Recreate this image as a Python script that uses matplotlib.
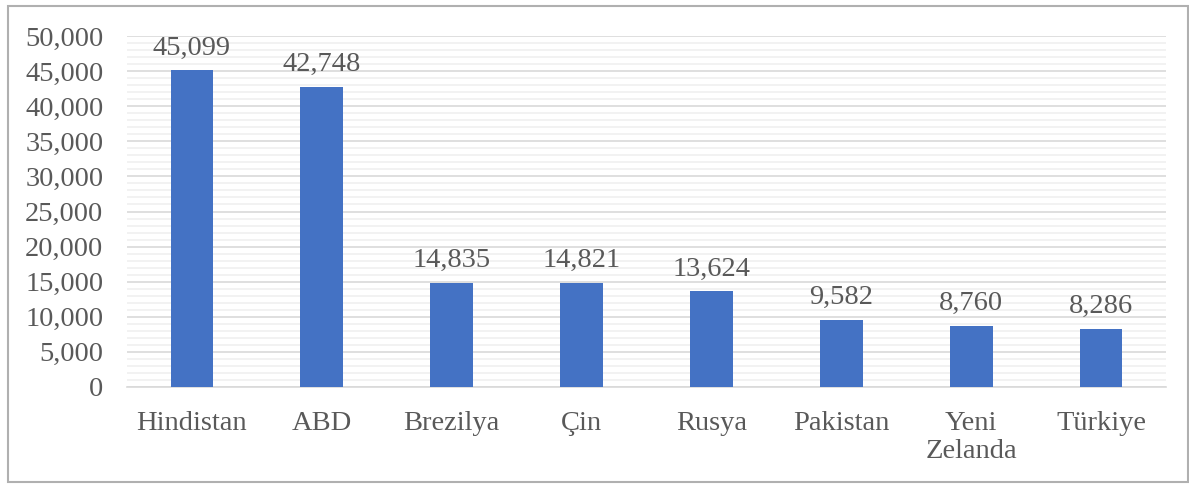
import matplotlib
matplotlib.use("Agg")
import matplotlib.pyplot as plt
from matplotlib.ticker import MultipleLocator, FuncFormatter
from matplotlib.patches import Rectangle

categories = ["Hindistan", "ABD", "Brezilya", "Çin", "Rusya", "Pakistan", "Yeni\nZelanda", "Türkiye"]
values = [45099, 42748, 14835, 14821, 13624, 9582, 8760, 8286]

plt.rcParams['font.family'] = ['Liberation Serif', 'DejaVu Serif']
txt = '#595959'
fs = 20.5

fig = plt.figure(figsize=(11.89, 4.84), dpi=100)
ax = fig.add_axes([127/1189, 1-387/484, (1166-127)/1189, (387-36)/484])

x = list(range(len(categories)))
bars = ax.bar(x, values, width=0.33, color='#4472C4', zorder=3)
for xi, v in zip(x, values):
    ax.annotate(f"{v:,}", (xi, v), xytext=(0, 7), textcoords='offset points',
                ha='center', va='bottom', fontsize=fs, color=txt)

ax.set_xlim(-0.5, len(categories) - 0.5)
ax.set_ylim(0, 50000)
ax.yaxis.set_major_locator(MultipleLocator(5000))
ax.yaxis.set_minor_locator(MultipleLocator(1000))
ax.yaxis.set_major_formatter(FuncFormatter(lambda v, p: f"{int(v):,}"))
ax.grid(axis='y', which='major', color='#d9d9d9', linewidth=1.2, zorder=0)
ax.grid(axis='y', which='minor', color='#f0f0f0', linewidth=1.2, zorder=0)
ax.set_xticks(x)
ax.set_xticklabels(categories, fontsize=fs, color=txt, linespacing=1.2)
ax.tick_params(axis='y', labelsize=fs, labelcolor=txt, length=0, pad=17)
ax.tick_params(axis='y', which='minor', length=0)
ax.tick_params(axis='x', length=0, pad=17)
for s in ['top', 'right', 'left']:
    ax.spines[s].set_visible(False)
ax.spines['bottom'].set_color('#d9d9d9')
ax.spines['bottom'].set_linewidth(1.2)

fig.patches.append(Rectangle((8/1189, 2/484), 1180/1189, 476/484, transform=fig.transFigure,
                             fill=False, edgecolor='#b0b0b0', linewidth=1.5))

fig.savefig("out.png", dpi=100)
